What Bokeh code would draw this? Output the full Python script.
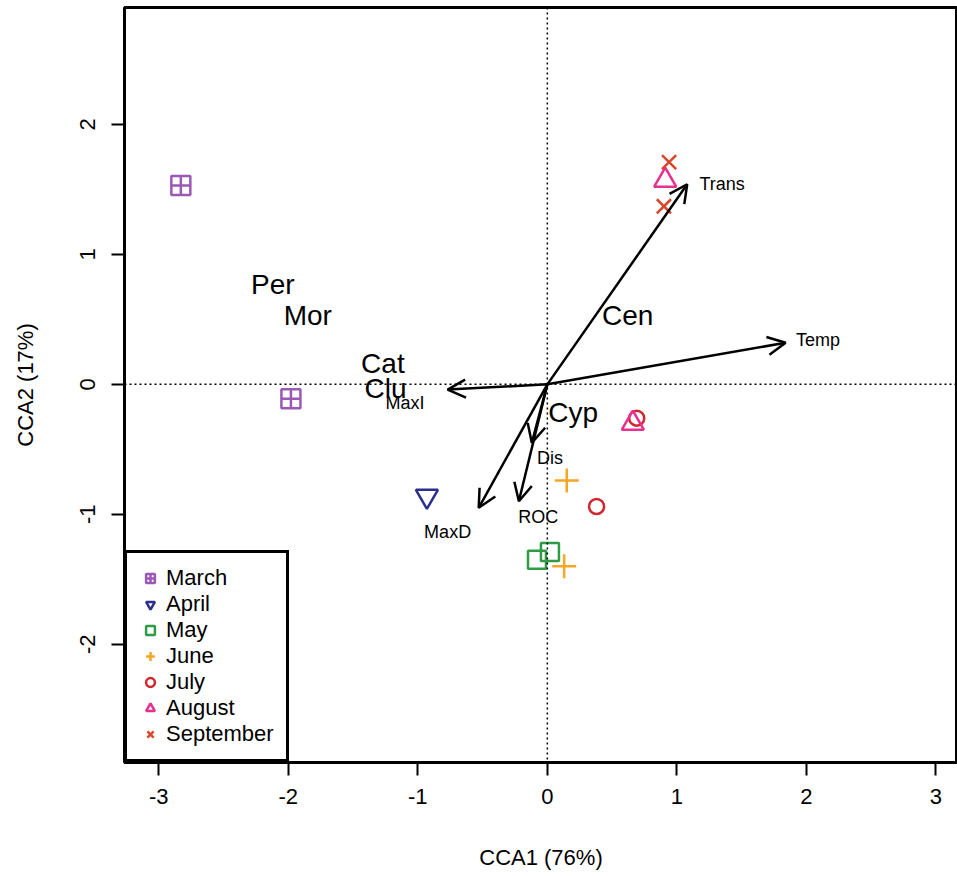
from bokeh.plotting import figure
from bokeh.models import (ColumnDataSource, Arrow, OpenHead, Span, Legend, LegendItem,
                          FixedTicker, Range1d)
from bokeh.embed import file_html
from bokeh.resources import INLINE
from bokeh.core.properties import value

# ---- data ----
months = ["March", "April", "May", "June", "July", "August", "September"]
month_colors = ["#9B59B6", "#2B2E8C", "#2E9B45", "#F5A623", "#D0262E", "#E8308F", "#D9472B"]
month_markers = ["square_cross", "inverted_triangle", "square", "cross", "circle", "triangle", "x"]
month_sizes = [19, 22, 18, 24, 15, 22, 20]

site_x = {
    "March": [-2.83, -1.98],
    "April": [-0.93],
    "May": [-0.08, 0.02],
    "June": [0.15, 0.13],
    "July": [0.38, 0.69],
    "August": [0.66, 0.91],
    "September": [0.94, 0.90],
}
site_y = {
    "March": [1.53, -0.11],
    "April": [-0.86],
    "May": [-1.35, -1.29],
    "June": [-0.74, -1.40],
    "July": [-0.94, -0.26],
    "August": [-0.30, 1.57],
    "September": [1.71, 1.37],
}

env_names = ["Trans", "Temp", "MaxI", "MaxD", "ROC", "Dis"]
env_x = [1.08, 1.84, -0.77, -0.53, -0.22, -0.12]
env_y = [1.54, 0.32, -0.04, -0.95, -0.90, -0.45]
env_label_x = [1.35, 2.09, -1.10, -0.77, -0.07, 0.02]
env_label_y = [1.54, 0.34, -0.14, -1.14, -1.02, -0.57]

species = ["Per", "Mor", "Cat", "Clu", "Cen", "Cyp"]
species_x = [-2.12, -1.85, -1.27, -1.25, 0.62, 0.20]
species_y = [0.77, 0.53, 0.16, -0.03, 0.53, -0.22]

x_ticks = [-3, -2, -1, 0, 1, 2, 3]
y_ticks = [-2, -1, 0, 1, 2]

FONT = "Liberation Sans"

p = figure(width=957, height=876, output_backend="svg", toolbar_location=None,
           x_range=Range1d(-3.265, 3.167), y_range=Range1d(-2.91, 2.90),
           min_border_left=124, min_border_right=0, min_border_top=7, min_border_bottom=114)
p.xgrid.visible = False
p.ygrid.visible = False
p.background_fill_color = "white"
p.border_fill_color = "white"
p.outline_line_color = "black"
p.outline_line_alpha = 1.0
p.outline_line_width = 3

for ax in (p.xaxis[0], p.yaxis[0]):
    ax.axis_line_color = None
    ax.major_tick_line_color = "black"
    ax.major_tick_line_width = 2
    ax.major_tick_out = 13
    ax.major_tick_in = 0
    ax.minor_tick_line_color = None
    ax.major_label_text_font = FONT
    ax.major_label_text_font_size = "22px"
    ax.major_label_text_color = "black"
    ax.axis_label_text_font = FONT
    ax.axis_label_text_font_size = "22px"
    ax.axis_label_text_font_style = "normal"
    ax.axis_label_text_color = "black"

p.xaxis.ticker = FixedTicker(ticks=x_ticks)
p.yaxis.ticker = FixedTicker(ticks=y_ticks)
p.xaxis.major_label_overrides = {t: str(t) for t in x_ticks}
p.yaxis.major_label_overrides = {t: str(t) for t in y_ticks}
p.xaxis.axis_label = "CCA1 (76%)"
p.yaxis.axis_label = "CCA2 (17%)"
p.xaxis.major_label_standoff = 13
p.xaxis.axis_label_standoff = 38
p.yaxis.major_label_orientation = "vertical"
p.yaxis.major_label_standoff = 16
p.yaxis.axis_label_standoff = 40

# dotted zero lines
p.add_layout(Span(location=0, dimension="width", line_color="black", line_width=1.5, line_dash="2 3"))
p.add_layout(Span(location=0, dimension="height", line_color="black", line_width=1.5, line_dash="2 3"))

# environmental arrows
arr_src = ColumnDataSource(dict(x0=[0.0] * len(env_x), y0=[0.0] * len(env_y), x1=env_x, y1=env_y))
p.add_layout(Arrow(end=OpenHead(size=18, line_width=2.5, line_color="black"),
                   x_start="x0", y_start="y0", x_end="x1", y_end="y1",
                   source=arr_src, line_width=2.5, line_color="black"))
p.text(x=env_label_x, y=env_label_y, text=env_names, text_align="center", text_baseline="middle",
       text_font=value(FONT), text_font_size="18px", text_color="black")

# species labels
p.text(x=species_x, y=species_y, text=species, text_align="center", text_baseline="middle",
       text_font=value(FONT), text_font_size="28px", text_color="black")

# site points
items = []
for m, c, mk, sz in zip(months, month_colors, month_markers, month_sizes):
    r = p.scatter(x=site_x[m], y=site_y[m], marker=mk, size=sz, fill_color=None,
                  line_color=c, line_width=2.5)
    items.append(LegendItem(label=m, renderers=[r]))

legend = Legend(items=items, location=(0, 0), border_line_color="black", border_line_alpha=1.0,
                border_line_width=3,
                background_fill_color="white", background_fill_alpha=1.0,
                label_text_font=FONT, label_text_font_size="22px", label_text_color="black",
                glyph_width=22, glyph_height=22, label_height=26, label_standoff=5,
                label_width=104, spacing=0, padding=12, margin=0)
p.add_layout(legend, "center")

open("out.html", "w").write(file_html(p, INLINE))
